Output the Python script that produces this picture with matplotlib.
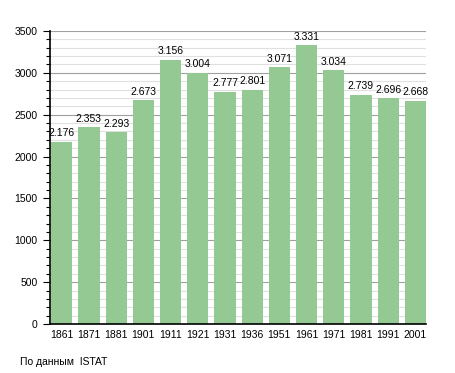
import matplotlib
matplotlib.use("Agg")
import matplotlib.pyplot as plt
from matplotlib.ticker import MultipleLocator

years = ["1861", "1871", "1881", "1901", "1911", "1921", "1931", "1936",
         "1951", "1961", "1971", "1981", "1991", "2001"]
population = [2176, 2353, 2293, 2673, 3156, 3004, 2777, 2801,
              3071, 3331, 3034, 2739, 2696, 2668]
value_labels = ["2.176", "2.353", "2.293", "2.673", "3.156", "3.004", "2.777", "2.801",
                "3.071", "3.331", "3.034", "2.739", "2.696", "2.668"]
source_text = "По данным  ISTAT"

plt.rcParams['font.family'] = ['Liberation Sans', 'DejaVu Sans']

fig = plt.figure(figsize=(4.55, 3.73), dpi=100)
ax = fig.add_axes([50/455, 49/373, 376/455, 293/373])

w = 0.78
xs = list(range(len(years)))
ax.bar(xs, population, width=w, align='edge', color='#94c994', zorder=3)

ax.set_xlim(-0.04, len(years) - 1 + w)
ax.set_ylim(0, 3500)

ax.yaxis.set_major_locator(MultipleLocator(500))
ax.yaxis.set_minor_locator(MultipleLocator(100))
ax.grid(axis='y', which='minor', color='#e0e0e0', linewidth=0.8, zorder=0)
ax.grid(axis='y', which='major', color='#a0a0a0', linewidth=0.8, zorder=1)

ax.set_xticks([x + w / 2 for x in xs])
ax.set_xticklabels(years)
ax.tick_params(axis='x', length=0, pad=4, labelsize=7.5)
ax.tick_params(axis='y', which='major', length=5, width=0.8, labelsize=7.5, pad=4)
ax.tick_params(axis='y', which='minor', length=3, width=0.8)

for side in ('top', 'right'):
    ax.spines[side].set_visible(False)
for side in ('left', 'bottom'):
    ax.spines[side].set_linewidth(1.2)
    ax.spines[side].set_zorder(5)

for x, v, lab in zip(xs, population, value_labels):
    ax.text(x + w / 2, v + 40, lab, ha='center', va='bottom', fontsize=7.5, zorder=6)

fig.text(20/455, 1 - 362/373, source_text, ha='left', va='center', fontsize=7.5)

fig.savefig("out.png", dpi=100)
